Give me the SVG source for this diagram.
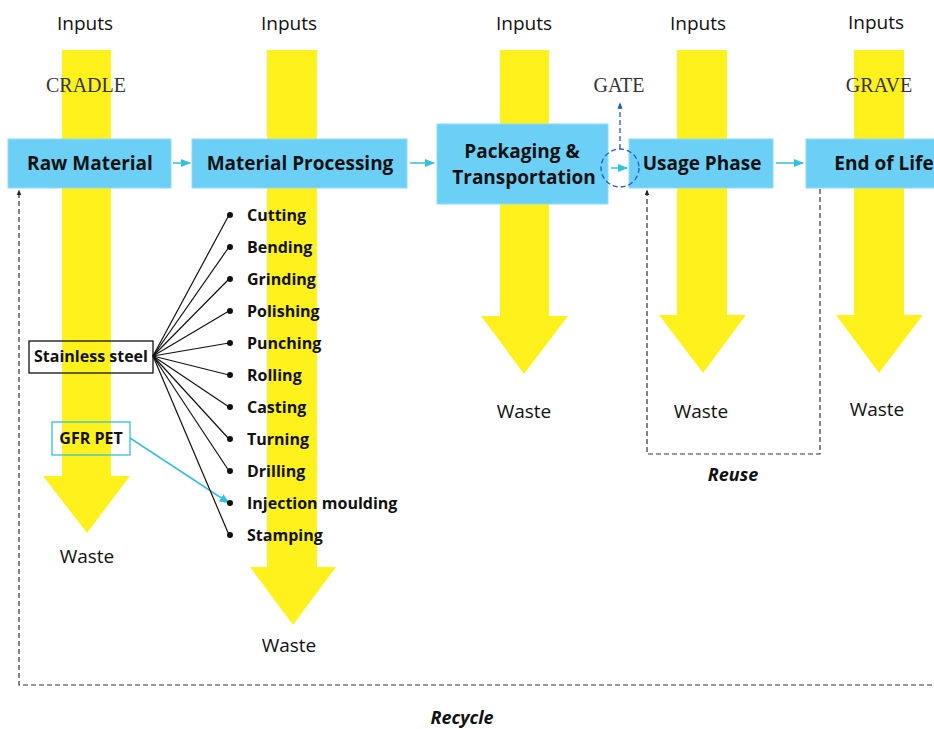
<svg xmlns="http://www.w3.org/2000/svg" width="934" height="729" viewBox="0 0 934 729">
<defs>
<style>
.big{fill:#fff21c}
.box{fill:#6ccff6;stroke:#8fdcf8;stroke-width:1}
.lbl{font-family:"Open Sans","Liberation Sans",sans-serif;font-weight:700;font-size:19px;fill:#111;text-anchor:middle}
.inp{font-family:"Open Sans","Liberation Sans",sans-serif;font-size:19px;fill:#111;text-anchor:middle}
.stage{font-family:"Liberation Serif",serif;font-size:20px;fill:#333;text-anchor:middle}
.proc{font-family:"Open Sans","Liberation Sans",sans-serif;font-weight:700;font-size:16px;fill:#111}
.it{font-family:"Open Sans","Liberation Sans",sans-serif;font-weight:700;font-style:italic;font-size:18px;fill:#111;text-anchor:middle}
.cy{stroke:#35bfe0;stroke-width:1.5;fill:none}
.blk{stroke:#111;stroke-width:1.2;fill:none}
.dash{stroke:#333;stroke-width:1.2;stroke-dasharray:5 3;fill:none}
</style>
<marker id="ac" viewBox="0 0 10 10" refX="9" refY="5" markerWidth="7" markerHeight="7" orient="auto-start-reverse"><path d="M0,1 L10,5 L0,9 z" fill="#35bfe0"/></marker>
<marker id="ak" viewBox="0 0 10 10" refX="9" refY="5" markerWidth="5" markerHeight="5" orient="auto-start-reverse"><path d="M0,1 L10,5 L0,9 z" fill="#222"/></marker>
<marker id="ab" viewBox="0 0 10 10" refX="9" refY="5" markerWidth="5" markerHeight="5" orient="auto-start-reverse"><path d="M0,1 L10,5 L0,9 z" fill="#1f5fbf"/></marker>
</defs>
<rect width="934" height="729" fill="#fff"/>

<g id="flows">
<path class="big" d="M62,50 H111 V476 H130 L87,533 L43,476 H62 Z"/>
<path class="big" d="M267,50 H317 V567 H336 L293,625 L250,567 H267 Z"/>
<path class="big" d="M500,50 H549 V316 H568 L524,374 L481,316 H500 Z"/>
<path class="big" d="M677,50 H727 V315 H746 L703,373 L659,315 H677 Z"/>
<path class="big" d="M854,50 H904 V315 H923 L879,373 L836,315 H854 Z"/>
</g>

<g id="labels">
<text class="inp" x="85" y="30">Inputs</text>
<text class="inp" x="289" y="30">Inputs</text>
<text class="inp" x="524" y="30">Inputs</text>
<text class="inp" x="698" y="30">Inputs</text>
<text class="inp" x="876" y="29">Inputs</text>
<text class="stage" x="86" y="92">CRADLE</text>
<text class="stage" x="619" y="92">GATE</text>
<text class="stage" x="879" y="92">GRAVE</text>
<text class="inp" x="87" y="563">Waste</text>
<text class="inp" x="289" y="652">Waste</text>
<text class="inp" x="524" y="418">Waste</text>
<text class="inp" x="701" y="418">Waste</text>
<text class="inp" x="877" y="416">Waste</text>
<text class="it" x="733" y="481">Reuse</text>
<text class="it" x="462" y="724">Recycle</text>
</g>

<g id="raw-material"><rect class="box" x="8" y="139" width="163" height="49"/><text class="lbl" x="90" y="170">Raw Material</text></g>
<g id="material-processing"><rect class="box" x="192" y="139" width="215" height="49"/><text class="lbl" x="300" y="170">Material Processing</text></g>
<g id="packaging"><rect class="box" x="437" y="124" width="171" height="80"/><text class="lbl" x="522" y="158">Packaging &amp;</text><text class="lbl" x="524" y="184">Transportation</text></g>
<g id="usage-phase"><rect class="box" x="629" y="139" width="144" height="49"/><text class="lbl" x="702" y="170">Usage Phase</text></g>
<g id="end-of-life"><rect class="box" x="806" y="139" width="140" height="49"/><text class="lbl" x="884" y="170">End of Life</text></g>

<g id="stainless-steel"><rect x="29" y="341" width="124" height="32" fill="#fff" fill-opacity="0" stroke="#111" stroke-width="1.3"/><text class="proc" x="91" y="362" text-anchor="middle">Stainless steel</text></g>
<g id="gfr-pet"><rect x="52" y="422" width="78" height="33" fill="none" stroke="#35bfe0" stroke-width="1.3"/><text class="proc" x="91" y="444" text-anchor="middle">GFR PET</text></g>

<g id="processes">
<text class="proc" x="247" y="221">Cutting</text>
<text class="proc" x="247" y="253">Bending</text>
<text class="proc" x="247" y="285">Grinding</text>
<text class="proc" x="247" y="317">Polishing</text>
<text class="proc" x="247" y="349">Punching</text>
<text class="proc" x="247" y="381">Rolling</text>
<text class="proc" x="247" y="413">Casting</text>
<text class="proc" x="247" y="445">Turning</text>
<text class="proc" x="247" y="477">Drilling</text>
<text class="proc" x="247" y="509">Injection moulding</text>
<text class="proc" x="247" y="541">Stamping</text>
</g>

<g id="gate">
<circle cx="620" cy="168" r="19" fill="none" stroke="#1f5fbf" stroke-width="1.3" stroke-dasharray="5 3"/>
<path d="M620,149 V103" stroke="#1f5fbf" stroke-width="1.3" stroke-dasharray="5 3" fill="none" marker-end="url(#ab)"/>
</g>

<g id="connectors">
<path class="cy" d="M173,163 H190" marker-end="url(#ac)"/>
<path class="cy" d="M410,163 H434" marker-end="url(#ac)"/>
<path class="cy" d="M611,168 H627" marker-end="url(#ac)"/>
<path class="cy" d="M776,163 H803" marker-end="url(#ac)"/>
<path class="cy" d="M130,438 L229,503" marker-end="url(#ac)"/>
<g fill="#111">
<circle cx="230" cy="215" r="3"/><circle cx="230" cy="247" r="3"/><circle cx="230" cy="279" r="3"/><circle cx="230" cy="311" r="3"/><circle cx="230" cy="343" r="3"/><circle cx="230" cy="375" r="3"/><circle cx="230" cy="407" r="3"/><circle cx="230" cy="439" r="3"/><circle cx="230" cy="471" r="3"/><circle cx="230" cy="503" r="3"/><circle cx="230" cy="535" r="3"/>
</g>
<g class="blk">
<path d="M153,356 L229,215"/><path d="M153,356 L229,247"/><path d="M153,356 L229,279"/><path d="M153,356 L229,311"/><path d="M153,356 L229,343"/><path d="M153,356 L229,375"/><path d="M153,356 L229,407"/><path d="M153,356 L229,439"/><path d="M153,356 L229,471"/><path d="M153,356 L229,535"/>
</g>
<path class="dash" d="M820,189 V454 H647 V190" marker-end="url(#ak)"/>
<path class="dash" d="M940,685 H19 V190" marker-end="url(#ak)" stroke="#555"/>
</g>
</svg>
